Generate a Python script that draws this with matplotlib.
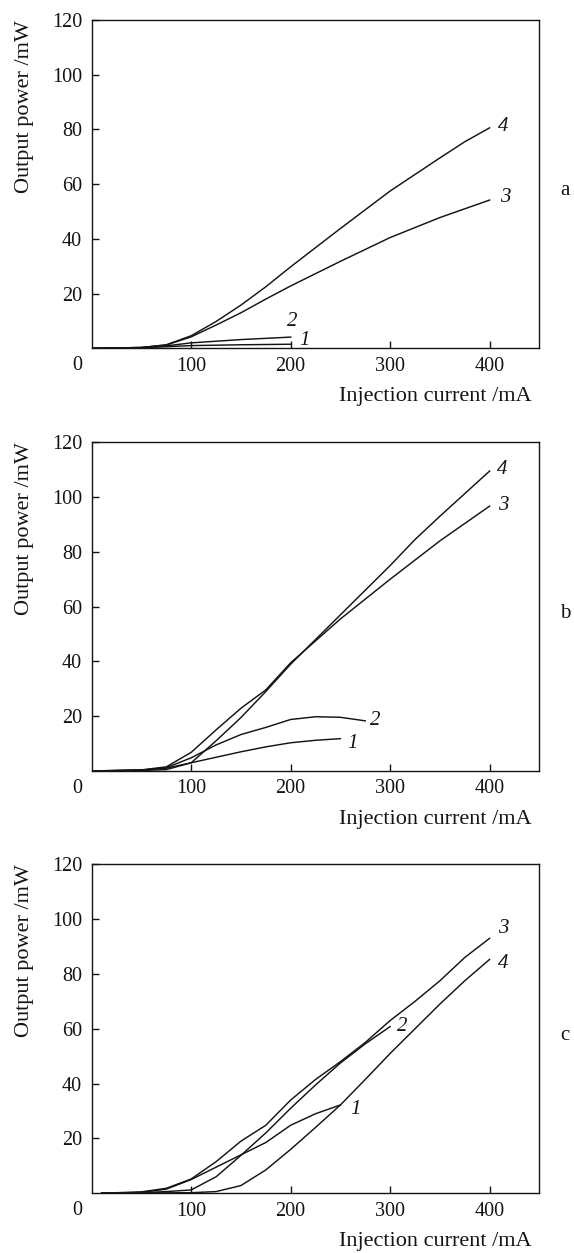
import numpy as np
import matplotlib
matplotlib.use("Agg")
import matplotlib.pyplot as plt

plt.rcParams['font.family'] = ['Liberation Serif', 'DejaVu Serif']
plt.rcParams['font.size'] = 14.5

# ---- panel a ----
a_x1 = [0, 50, 75, 100, 150, 200]
a_y1 = [0, 0.2, 0.6, 1.0, 1.3, 1.5]
a_x2 = [0, 50, 75, 100, 150, 200]
a_y2 = [0, 0.3, 0.9, 2.0, 3.2, 4.1]
a_x3 = [0, 50, 75, 100, 125, 150, 175, 200, 250, 300, 350, 400]
a_y3 = [0, 0.3, 1.2, 4.2, 8.5, 13.0, 18.0, 22.8, 31.8, 40.5, 47.8, 54.2]
a_x4 = [0, 50, 75, 100, 125, 150, 175, 200, 250, 300, 350, 375, 400]
a_y4 = [0, 0.3, 1.3, 4.6, 9.8, 15.8, 22.5, 29.8, 43.8, 57.5, 69.6, 75.5, 80.6]

# ---- panel b ----
b_x1 = [0, 50, 75, 100, 150, 175, 200, 225, 250]
b_y1 = [0, 0.3, 1.0, 3.0, 7.0, 8.8, 10.3, 11.2, 11.8]
b_x2 = [0, 50, 75, 100, 125, 150, 175, 200, 225, 250, 275]
b_y2 = [0, 0.3, 1.2, 4.8, 9.5, 13.3, 15.9, 18.8, 19.8, 19.6, 18.3]
b_x3 = [0, 50, 75, 100, 125, 150, 175, 200, 225, 250, 300, 350, 400]
b_y3 = [0, 0.4, 1.5, 6.8, 15.0, 22.9, 29.6, 39.5, 47.5, 55.5, 70.0, 84.0, 96.7]
b_x4 = [0, 50, 75, 100, 125, 150, 175, 200, 250, 300, 325, 350, 400]
b_y4 = [0, 0.2, 0.5, 3.0, 11.0, 19.5, 29.0, 39.0, 57.0, 75.0, 84.5, 93.0, 109.5]

# ---- panel c ----
c_x1 = [10, 50, 75, 100, 125, 150, 175, 200, 225, 250]
c_y1 = [0, 0.3, 1.5, 5.0, 9.5, 14.0, 18.5, 24.8, 29.0, 32.2]
c_x2 = [10, 50, 75, 100, 125, 150, 175, 200, 225, 250, 275, 300]
c_y2 = [0, 0.2, 0.6, 1.2, 6.0, 13.8, 22.0, 31.0, 39.5, 47.5, 54.5, 60.8]
c_x3 = [10, 50, 75, 100, 125, 150, 175, 200, 225, 250, 275, 300, 325, 350, 375, 400]
c_y3 = [0, 0.5, 1.8, 5.2, 11.5, 19.0, 24.8, 34.0, 41.5, 48.0, 55.0, 63.0, 70.0, 77.5, 86.0, 93.0]
c_x4 = [10, 50, 100, 125, 150, 175, 200, 225, 250, 275, 300, 325, 350, 375, 400]
c_y4 = [0, 0.1, 0.2, 0.6, 2.8, 8.5, 16.0, 24.0, 32.2, 41.5, 51.0, 60.0, 69.0, 77.5, 85.3]

panels = [
    ("a", [(a_x1, a_y1), (a_x2, a_y2), (a_x3, a_y3), (a_x4, a_y4)],
     [("1", 214, 3.0), ("2", 202, 9.7), ("3", 416, 55.3), ("4", 414, 81.2)]),
    ("b", [(b_x1, b_y1), (b_x2, b_y2), (b_x3, b_y3), (b_x4, b_y4)],
     [("1", 262, 10.1), ("2", 285, 18.4), ("3", 414, 97.0), ("4", 413, 110.0)]),
    ("c", [(c_x1, c_y1), (c_x2, c_y2), (c_x3, c_y3), (c_x4, c_y4)],
     [("1", 265, 30.4), ("2", 312, 60.8), ("3", 414, 96.7), ("4", 414, 83.7)]),
]

# axes boxes in figure fraction [left, bottom, width, height]
boxes = [
    [0.1598, 0.7220, 0.7798, 0.2620],
    [0.1598, 0.3847, 0.7798, 0.2623],
    [0.1598, 0.0477, 0.7798, 0.2625],
]

ink = '#141414'
fig = plt.figure(figsize=(5.74, 12.53), dpi=100)

for (letter, curves, labels), box in zip(panels, boxes):
    ax = fig.add_axes(box)
    for xs, ys in curves:
        ax.plot(xs, ys, color=ink, lw=1.05, solid_joinstyle='miter')
    for txt, lx, ly in labels:
        ax.text(lx, ly, txt, style='italic', ha='center', va='center',
                color=ink, fontsize=15)

    ax.set_xlim(0, 450)
    ax.set_ylim(0, 120)
    ax.set_xticks([100, 200, 300, 400])
    ax.set_yticks([20, 40, 60, 80, 100, 120])
    ax.tick_params(direction='in', length=5, width=1.0, colors=ink, pad=6)
    ax.tick_params(axis='y', pad=7)
    for s in ax.spines.values():
        s.set_linewidth(1.0)
        s.set_color(ink)

    ax.text(-0.033, -0.052, "0", transform=ax.transAxes, ha='center', va='center', color=ink)
    ax.text(0.983, -0.148, "Injection current /mA", transform=ax.transAxes,
            ha='right', va='center', color=ink, fontsize=16)
    ax.text(-0.151, 1.0, "Output power /mW", transform=ax.transAxes,
            rotation=90, ha='center', va='top', color=ink, fontsize=16)
    ax.text(1.057, 0.48, letter, transform=ax.transAxes, ha='center', va='center',
            color=ink, fontsize=15)

fig.savefig("out.png", dpi=100)
